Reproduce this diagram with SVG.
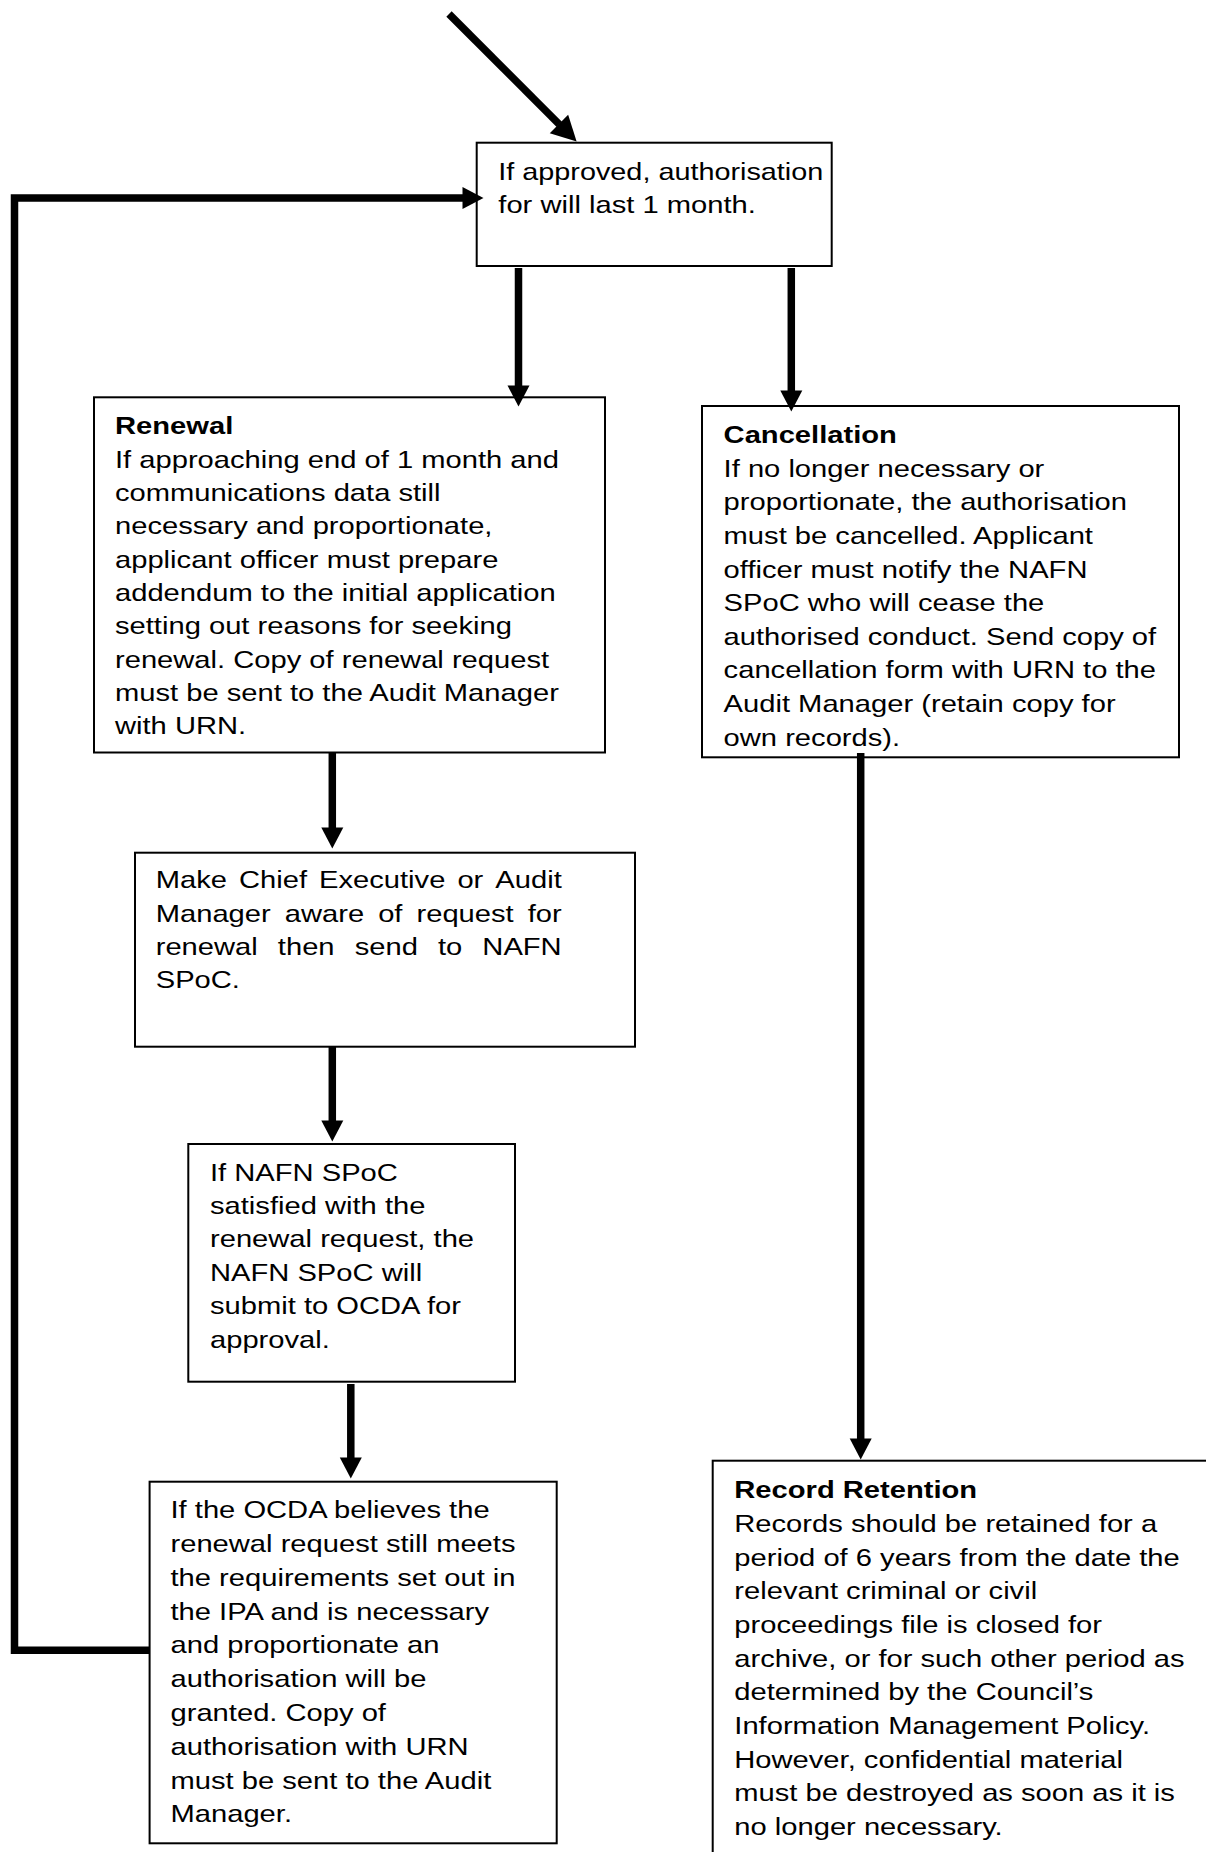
<svg xmlns="http://www.w3.org/2000/svg" width="1206" height="1852" viewBox="0 0 1206 1852">
  <style>
    .box { fill: #fff; stroke: #000; stroke-width: 2; }
    .t { font-family: "Liberation Sans", Arial, sans-serif; font-size: 24px; fill: #000; }
    .b { font-weight: bold; }
    .ln { fill: none; stroke: #000; stroke-width: 7.5; stroke-linecap: butt; stroke-linejoin: miter; }
  </style>
  <defs>
    <marker id="ah" markerUnits="userSpaceOnUse" markerWidth="22" markerHeight="23" refX="0.5" refY="11" orient="auto" overflow="visible">
      <path d="M0,0 L21,11 L0,22 Z" fill="#000"/>
    </marker>
    <marker id="ah2" markerUnits="userSpaceOnUse" markerWidth="26" markerHeight="27" refX="0.5" refY="13" orient="auto" overflow="visible">
      <path d="M0,0 L25,13 L0,26 Z" fill="#000"/>
    </marker>
  </defs>

  <rect width="1206" height="1852" fill="#fff"/>

  <g id="node-approved">
    <rect class="box" x="476.7" y="142.7" width="355" height="123.3"/>
    <text class="t" transform="matrix(1.215 0 0 1 498.3 0)">
      <tspan x="0" y="180" textLength="267.5" lengthAdjust="spacingAndGlyphs">If approved, authorisation</tspan>
      <tspan x="0" y="213.4">for will last 1 month.</tspan>
    </text>
  </g>

  <g id="node-renewal">
    <rect class="box" x="94" y="397.3" width="511" height="355.2"/>
    <text class="t" transform="matrix(1.215 0 0 1 115 0)">
      <tspan class="b" x="0" y="434.3">Renewal</tspan>
      <tspan x="0" y="467.7">If approaching end of 1 month and</tspan>
      <tspan x="0" y="501">communications data still</tspan>
      <tspan x="0" y="534.4">necessary and proportionate,</tspan>
      <tspan x="0" y="567.7">applicant officer must prepare</tspan>
      <tspan x="0" y="601.1">addendum to the initial application</tspan>
      <tspan x="0" y="634.4">setting out reasons for seeking</tspan>
      <tspan x="0" y="667.8">renewal. Copy of renewal request</tspan>
      <tspan x="0" y="701.1">must be sent to the Audit Manager</tspan>
      <tspan x="0" y="734.5">with URN.</tspan>
    </text>
  </g>

  <g id="node-cancellation">
    <rect class="box" x="702" y="406" width="477" height="351.3"/>
    <text class="t" transform="matrix(1.215 0 0 1 723.6 0)">
      <tspan class="b" x="0" y="443.3">Cancellation</tspan>
      <tspan x="0" y="476.9">If no longer necessary or</tspan>
      <tspan x="0" y="510.5">proportionate, the authorisation</tspan>
      <tspan x="0" y="544.1">must be cancelled. Applicant</tspan>
      <tspan x="0" y="577.7">officer must notify the NAFN</tspan>
      <tspan x="0" y="611.3">SPoC who will cease the</tspan>
      <tspan x="0" y="644.9">authorised conduct. Send copy of</tspan>
      <tspan x="0" y="678.5">cancellation form with URN to the</tspan>
      <tspan x="0" y="712.1">Audit Manager (retain copy for</tspan>
      <tspan x="0" y="745.7">own records).</tspan>
    </text>
  </g>

  <g id="node-make-aware">
    <rect class="box" x="135" y="852.7" width="500" height="194"/>
    <text class="t" transform="matrix(1.215 0 0 1 155.7 0)">
      <tspan x="0" y="888.3">Make</tspan><tspan x="68.54" y="888.3">Chief</tspan><tspan x="134.42" y="888.3">Executive</tspan><tspan x="248.32" y="888.3">or</tspan><tspan x="279.52" y="888.3">Audit</tspan>
      <tspan x="0" y="921.7">Manager</tspan><tspan x="106.22" y="921.7">aware</tspan><tspan x="183.09" y="921.7">of</tspan><tspan x="214.63" y="921.7">request</tspan><tspan x="306.19" y="921.7">for</tspan>
      <tspan x="0" y="955">renewal</tspan><tspan x="100.54" y="955">then</tspan><tspan x="163.76" y="955">send</tspan><tspan x="232.31" y="955">to</tspan><tspan x="268.85" y="955">NAFN</tspan>
      <tspan x="0" y="988.3">SPoC.</tspan>
    </text>
  </g>

  <g id="node-nafn">
    <rect class="box" x="188.3" y="1144" width="326.7" height="237.7"/>
    <text class="t" transform="matrix(1.215 0 0 1 210 0)">
      <tspan x="0" y="1180.7">If NAFN SPoC</tspan>
      <tspan x="0" y="1214">satisfied with the</tspan>
      <tspan x="0" y="1247.4">renewal request, the</tspan>
      <tspan x="0" y="1280.8">NAFN SPoC will</tspan>
      <tspan x="0" y="1314.2">submit to OCDA for</tspan>
      <tspan x="0" y="1347.6">approval.</tspan>
    </text>
  </g>

  <g id="node-ocda">
    <rect class="box" x="149.6" y="1481.7" width="407.1" height="361.6"/>
    <text class="t" transform="matrix(1.215 0 0 1 170.5 0)">
      <tspan x="0" y="1518.3">If the OCDA believes the</tspan>
      <tspan x="0" y="1552.1">renewal request still meets</tspan>
      <tspan x="0" y="1585.9">the requirements set out in</tspan>
      <tspan x="0" y="1619.7">the IPA and is necessary</tspan>
      <tspan x="0" y="1653.5">and proportionate an</tspan>
      <tspan x="0" y="1687.3">authorisation will be</tspan>
      <tspan x="0" y="1721.1">granted. Copy of</tspan>
      <tspan x="0" y="1754.9">authorisation with URN</tspan>
      <tspan x="0" y="1788.7">must be sent to the Audit</tspan>
      <tspan x="0" y="1822.5">Manager.</tspan>
    </text>
  </g>

  <g id="node-record">
    <rect class="box" x="712.7" y="1460.7" width="600" height="500"/>
    <text class="t" transform="matrix(1.215 0 0 1 734.3 0)">
      <tspan class="b" x="0" y="1498.3">Record Retention</tspan>
      <tspan x="0" y="1532">Records should be retained for a</tspan>
      <tspan x="0" y="1565.6">period of 6 years from the date the</tspan>
      <tspan x="0" y="1599.3">relevant criminal or civil</tspan>
      <tspan x="0" y="1633">proceedings file is closed for</tspan>
      <tspan x="0" y="1666.6">archive, or for such other period as</tspan>
      <tspan x="0" y="1700.3">determined by the Council’s</tspan>
      <tspan x="0" y="1734">Information Management Policy.</tspan>
      <tspan x="0" y="1767.7">However, confidential material</tspan>
      <tspan x="0" y="1801.3">must be destroyed as soon as it is</tspan>
      <tspan x="0" y="1835">no longer necessary.</tspan>
    </text>
  </g>

  <g id="connectors">
    <path class="ln" d="M449,14 L559.3,124.3" marker-end="url(#ah2)" stroke-width="8"/>
    <path class="ln" d="M150,1650.3 H14.5 V198 H463" marker-end="url(#ah)" stroke-width="7.3"/>
    <path class="ln" d="M518.5,268 V386" marker-end="url(#ah)"/>
    <path class="ln" d="M791.3,268 V391" marker-end="url(#ah)"/>
    <path class="ln" d="M332.3,753 V828" marker-end="url(#ah)"/>
    <path class="ln" d="M332.3,1047 V1121" marker-end="url(#ah)"/>
    <path class="ln" d="M350.8,1384 V1458" marker-end="url(#ah)"/>
    <path class="ln" d="M860.7,753 V1439" marker-end="url(#ah)"/>
  </g>
</svg>
